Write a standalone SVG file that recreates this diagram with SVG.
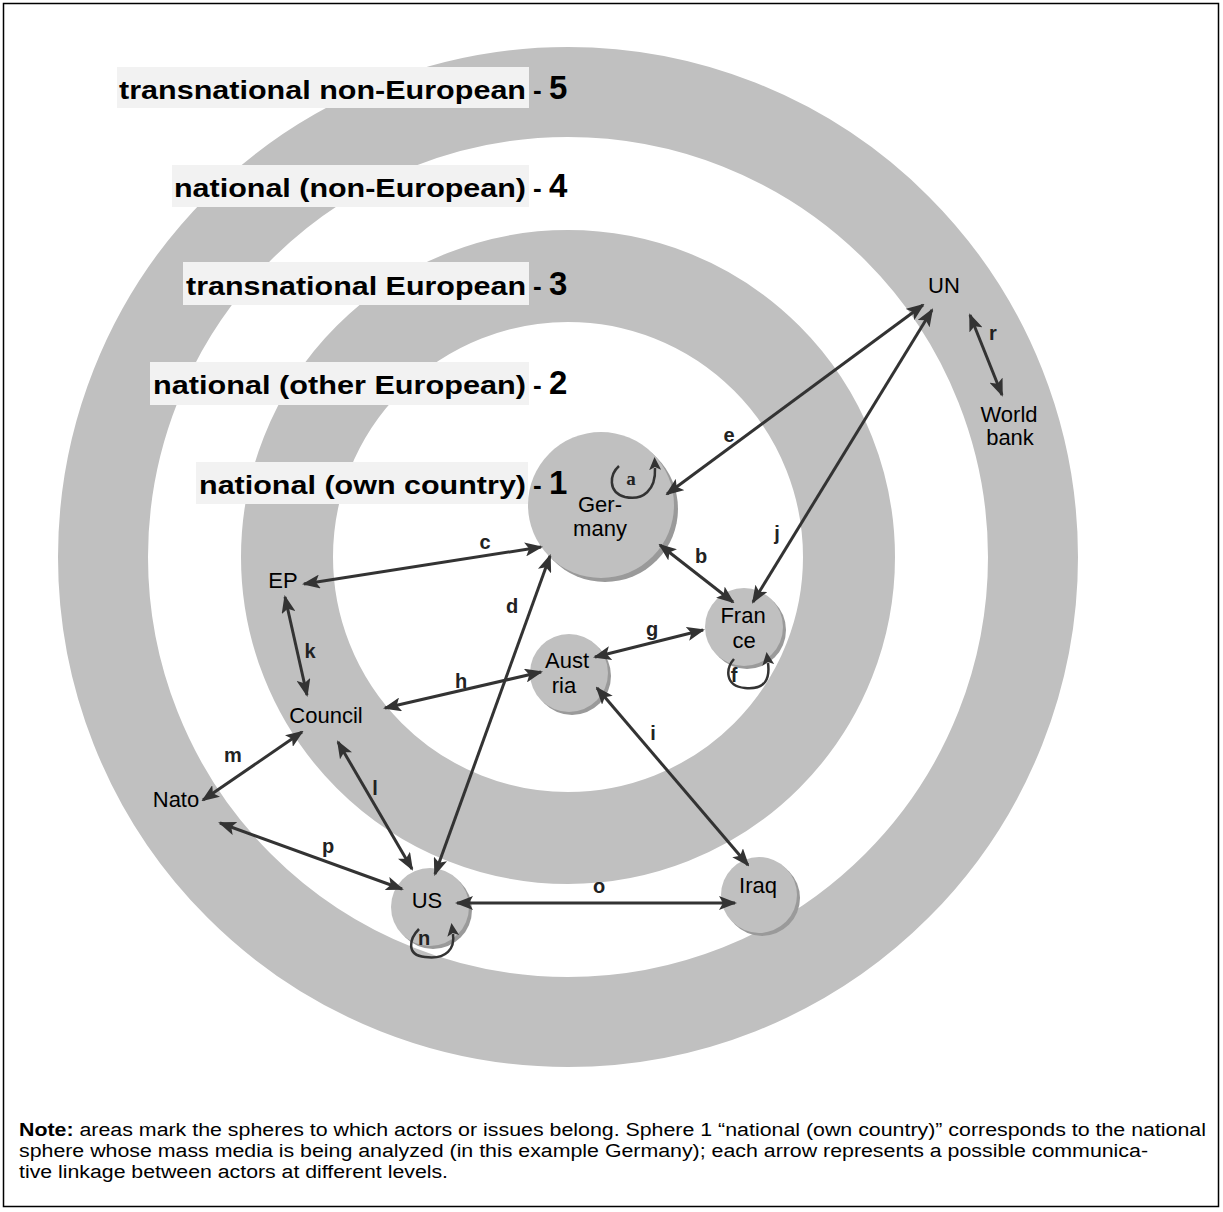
<svg xmlns="http://www.w3.org/2000/svg" width="1223" height="1212" viewBox="0 0 1223 1212">
<style>
.ring{fill:none;stroke:#c0c0c0}
.lbg{fill:#f2f2f2}
.lbl{font-family:"Liberation Sans",Arial,sans-serif;font-weight:bold;font-size:26px;fill:#000}
.num{font-size:33px}
.node{fill:#c0c0c0}
.shadow{fill:#9a9a9a}
.nt{font-family:"Liberation Sans",Arial,sans-serif;font-size:22px;text-anchor:middle;fill:#000}
.conn{stroke:#333;stroke-width:3;fill:none;marker-start:url(#ah);marker-end:url(#ah)}
.loop{stroke:#333;stroke-width:2.5;fill:none;marker-end:url(#lh)}
.el{font-family:"Liberation Sans",Arial,sans-serif;font-weight:bold;font-size:20px;text-anchor:middle;fill:#222}
.note{font-family:"Liberation Sans",Arial,sans-serif;font-size:18px;fill:#000}
</style>
<defs>
<marker id="ah" markerUnits="userSpaceOnUse" markerWidth="18" markerHeight="14" viewBox="0 0 18 14" refX="16" refY="7" orient="auto-start-reverse"><path d="M0,0 L18,7 L0,14 L4,7z" fill="#333"/></marker>
<marker id="lh" markerUnits="userSpaceOnUse" markerWidth="13" markerHeight="12" viewBox="0 0 13 12" refX="2" refY="6" orient="auto"><path d="M0,0 L13,6 L0,12 L3,6z" fill="#333"/></marker>
</defs>
<rect x="3.5" y="3.5" width="1215" height="1203" fill="#fff" stroke="#000" stroke-width="1.5"/>
<g id="spheres">
<circle class="ring" cx="568" cy="557" r="465" stroke-width="90"/>
<circle class="ring" cx="568" cy="557" r="281" stroke-width="92"/>
</g>
<g id="node-germany">
<circle class="shadow" cx="605" cy="509" r="73"/>
<circle class="node" cx="601" cy="505" r="73"/>
<text class="nt" x="600" y="512">Ger-</text>
<text class="nt" x="600" y="536">many</text>
</g>
<g id="labels">
<rect class="lbg" x="117" y="67" width="412" height="41"/>
<text class="lbl" x="119" y="99" textLength="407" lengthAdjust="spacingAndGlyphs">transnational non-European</text>
<text class="lbl" x="533" y="99">- <tspan class="num">5</tspan></text>
<rect class="lbg" x="172" y="165" width="357" height="42"/>
<text class="lbl" x="174" y="197" textLength="352" lengthAdjust="spacingAndGlyphs">national (non-European)</text>
<text class="lbl" x="533" y="197">- <tspan class="num">4</tspan></text>
<rect class="lbg" x="183" y="262" width="346" height="43"/>
<text class="lbl" x="186" y="295" textLength="340" lengthAdjust="spacingAndGlyphs">transnational European</text>
<text class="lbl" x="533" y="295">- <tspan class="num">3</tspan></text>
<rect class="lbg" x="150" y="362" width="379" height="43"/>
<text class="lbl" x="153" y="394" textLength="373" lengthAdjust="spacingAndGlyphs">national (other European)</text>
<text class="lbl" x="533" y="394">- <tspan class="num">2</tspan></text>
<rect class="lbg" x="196" y="462" width="332" height="42"/>
<text class="lbl" x="199" y="494" textLength="327" lengthAdjust="spacingAndGlyphs">national (own country)</text>
<text class="lbl" x="533" y="494">- <tspan class="num">1</tspan></text>
</g>
<g id="node-france">
<circle class="shadow" cx="747" cy="630" r="39"/>
<circle class="node" cx="744" cy="627" r="39"/>
<text class="nt" x="743" y="623">Fran</text>
<text class="nt" x="744" y="648">ce</text>
</g>
<g id="node-austria">
<circle class="shadow" cx="572" cy="676" r="39"/>
<circle class="node" cx="569" cy="673" r="39"/>
<text class="nt" x="567" y="668">Aust</text>
<text class="nt" x="564" y="693">ria</text>
</g>
<g id="node-us">
<circle class="shadow" cx="433" cy="910" r="39"/>
<circle class="node" cx="430" cy="907" r="39"/>
<text class="nt" x="427" y="908">US</text>
</g>
<g id="node-iraq">
<circle class="shadow" cx="762" cy="898" r="38"/>
<circle class="node" cx="759" cy="895" r="38"/>
<text class="nt" x="758" y="893">Iraq</text>
</g>
<g id="node-ep"><text class="nt" x="283" y="588">EP</text></g>
<g id="node-council"><text class="nt" x="326" y="723">Council</text></g>
<g id="node-nato"><text class="nt" x="176" y="807">Nato</text></g>
<g id="node-un"><text class="nt" x="944" y="293">UN</text></g>
<g id="node-worldbank"><text class="nt" x="1009" y="422">World</text><text class="nt" x="1010" y="445">bank</text></g>
<g id="connectors">
<line class="conn" x1="304" y1="584" x2="541" y2="547"/>
<line class="conn" x1="667" y1="494" x2="923" y2="305"/>
<line class="conn" x1="753" y1="602" x2="932" y2="310"/>
<line class="conn" x1="660" y1="545" x2="733" y2="602"/>
<line class="conn" x1="550" y1="556" x2="435" y2="874"/>
<line class="conn" x1="595" y1="657" x2="703" y2="630"/>
<line class="conn" x1="385" y1="708" x2="541" y2="672"/>
<line class="conn" x1="597" y1="688" x2="748" y2="865"/>
<line class="conn" x1="285" y1="597" x2="307" y2="695"/>
<line class="conn" x1="338" y1="742" x2="412" y2="869"/>
<line class="conn" x1="302" y1="732" x2="203" y2="800"/>
<line class="conn" x1="220" y1="823" x2="402" y2="889"/>
<line class="conn" x1="457" y1="903" x2="735" y2="903"/>
<line class="conn" x1="970" y1="315" x2="1002" y2="395"/>
<path class="loop" d="M619,466 C610,474 607,492 625,497 C643,501 656,490 655,468"/>
<path class="loop" d="M734,659 C726,668 724,686 745,688 C766,690 770,678 768,663"/>
<path class="loop" d="M419,929 C410,938 405,955 425,957 C447,960 455,948 453,934"/>
<text x="631" y="485" font-family="'Liberation Serif','Times New Roman',serif" font-weight="bold" font-size="19" text-anchor="middle" fill="#222">a</text>
<text class="el" x="701" y="563">b</text>
<text class="el" x="485" y="549">c</text>
<text class="el" x="512" y="613">d</text>
<text class="el" x="729" y="442">e</text>
<text class="el" x="734" y="682">f</text>
<text class="el" x="652" y="636">g</text>
<text class="el" x="461" y="688">h</text>
<text class="el" x="653" y="740">i</text>
<text class="el" x="777" y="540">j</text>
<text class="el" x="310" y="658">k</text>
<text class="el" x="375" y="795">l</text>
<text class="el" x="233" y="762">m</text>
<text class="el" x="424" y="945">n</text>
<text class="el" x="599" y="893">o</text>
<text class="el" x="328" y="853">p</text>
<text class="el" x="993" y="340">r</text>
</g>
<g id="note">
<text class="note" x="19" y="1136" textLength="1187" lengthAdjust="spacingAndGlyphs"><tspan font-weight="bold">Note:</tspan> areas mark the spheres to which actors or issues belong. Sphere 1 “national (own country)” corresponds to the national</text>
<text class="note" x="19" y="1157" textLength="1129" lengthAdjust="spacingAndGlyphs">sphere whose mass media is being analyzed (in this example Germany); each arrow represents a possible communica-</text>
<text class="note" x="19" y="1178" textLength="429" lengthAdjust="spacingAndGlyphs">tive linkage between actors at different levels.</text>
</g>
</svg>
